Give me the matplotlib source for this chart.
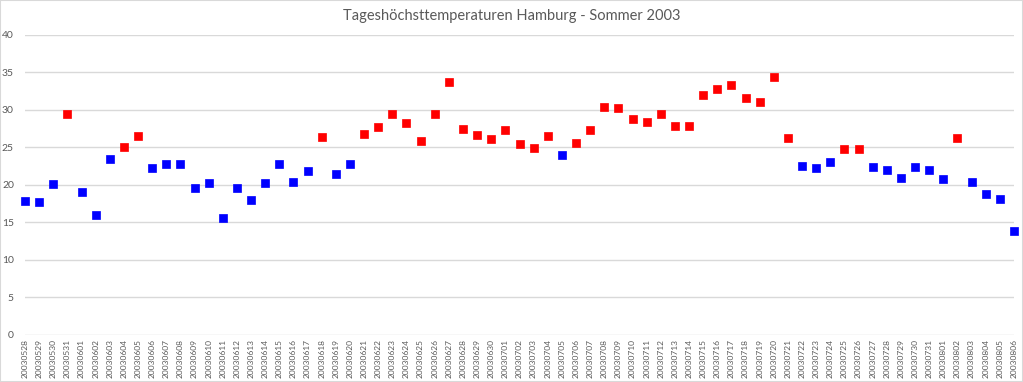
import matplotlib.pyplot as plt
import matplotlib.patches as patches
import pandas as pd

plt.rcParams['font.family'] = ['Lato', 'DejaVu Sans']

dates = pd.date_range('2003-05-28', '2003-08-06').strftime('%Y%m%d').tolist()

temps = [17.8, 17.7, 20.1, 29.5,
         19.0, 15.9, 23.4, 25.0, 26.5, 22.3, 22.8, 22.8, 19.5, 20.2,
         15.6, 19.5, 17.9, 20.2, 22.8, 20.4, 21.8, 26.4, 21.4, 22.8,
         26.8, 27.7, 29.5, 28.3, 25.8, 29.4, 33.7, 27.5, 26.7, 26.1,
         27.3, 25.4, 24.9, 26.5, 24.0, 25.6, 27.3, 30.4, 30.3, 28.8,
         28.4, 29.5, 27.9, 27.9, 32.0, 32.8, 33.3, 31.6, 31.1, 34.4,
         26.3, 22.5, 22.3, 23.1, 24.8, 24.8, 22.4, 22.0, 20.9, 22.4,
         22.0, 20.8, 26.2, 20.4, 18.7, 18.1, 13.8]

threshold = 24.5
title = 'Tageshöchsttemperaturen Hamburg - Sommer 2003'

grey = '#595959'
grid = '#D9D9D9'

fig = plt.figure(figsize=(10.23, 3.82), dpi=100)
ax = fig.add_axes([25 / 1023, 1 - 334.5 / 382, 989 / 1023, 299.5 / 382])

x = list(range(len(dates)))
hot_x = [i for i, t in zip(x, temps) if t >= threshold]
hot_y = [t for t in temps if t >= threshold]
cool_x = [i for i, t in zip(x, temps) if t < threshold]
cool_y = [t for t in temps if t < threshold]

ax.plot(cool_x, cool_y, 's', color='#0000FF', ms=5.5, mec='#0000FF',
        mew=0.5, clip_on=False, zorder=3)
ax.plot(hot_x, hot_y, 's', color='#FF0000', ms=5.5, mec='#FF0000',
        mew=0.5, clip_on=False, zorder=3)

ax.set_xlim(0, len(dates) - 1)
ax.set_ylim(0, 40)
ax.set_yticks(range(0, 41, 5))
ax.set_xticks(x)
ax.set_xticklabels(dates, rotation=90, fontsize=6, color=grey)
ax.tick_params(axis='y', labelsize=7.5, labelcolor=grey, length=0, pad=8)
ax.tick_params(axis='x', length=0, pad=3)
ax.grid(axis='y', color=grid, linewidth=1)
ax.set_axisbelow(True)
for s in ax.spines.values():
    s.set_visible(False)

fig.text(0.5, 1 - 16 / 382, title, ha='center', va='center',
         fontsize=10.5, color=grey)

fig.patches.append(patches.Rectangle((0, 0), 1, 1, transform=fig.transFigure,
                                     fill=False, edgecolor=grid, linewidth=1.5))

fig.savefig('out.png', dpi=100)
